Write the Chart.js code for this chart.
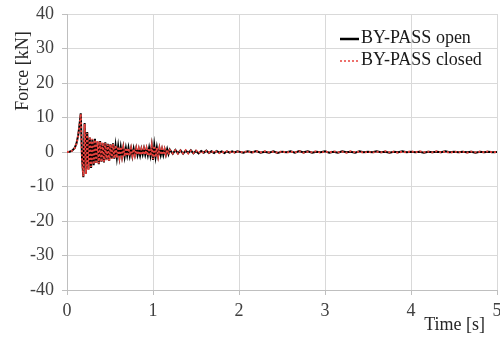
<!DOCTYPE html>
<html>
<head>
<meta charset="utf-8">
<script src="https://cdn.jsdelivr.net/npm/chart.js@4"></script>
<style>
  html, body { margin: 0; padding: 0; background: #fff; }
  #wrap { width: 500px; height: 338px; }
</style>
</head>
<body>
<div id="wrap"><canvas id="chart" width="500" height="338"></canvas></div>
<script>
// Temps (s) des échantillons
const times = [
  0, 0.03, 0.06, 0.09, 0.11, 0.13, 0.145, 0.16,
  0.175, 0.19, 0.205, 0.22, 0.235, 0.25, 0.265, 0.28, 0.295, 0.31,
  0.325, 0.34, 0.355, 0.37, 0.385, 0.4, 0.415, 0.43, 0.445, 0.46,
  0.475, 0.49, 0.505, 0.52, 0.535, 0.55, 0.565, 0.58, 0.595, 0.61,
  0.625, 0.64, 0.655, 0.67, 0.685, 0.7, 0.715, 0.73, 0.745, 0.76,
  0.775, 0.79, 0.805, 0.82, 0.835, 0.85, 0.865, 0.88, 0.895, 0.91,
  0.925, 0.94, 0.955, 0.97, 0.985, 1.0, 1.015, 1.03, 1.045, 1.06,
  1.075, 1.09, 1.105, 1.12, 1.135, 1.15, 1.165, 1.18, 1.195,
  1.23, 1.26, 1.29, 1.32, 1.35, 1.38, 1.41, 1.44, 1.47, 1.5,
  1.53, 1.56, 1.59, 1.62, 1.65, 1.68, 1.71, 1.74, 1.77, 1.8,
  1.83, 1.86, 1.89, 1.92, 1.95, 1.98,
  2.05, 2.1, 2.15, 2.2, 2.25, 2.3, 2.35, 2.4, 2.45, 2.5,
  2.55, 2.6, 2.65, 2.7, 2.75, 2.8, 2.85, 2.9, 2.95, 3.0,
  3.05, 3.1, 3.15, 3.2, 3.25, 3.3, 3.35, 3.4, 3.45, 3.5,
  3.55, 3.6, 3.65, 3.7, 3.75, 3.8, 3.85, 3.9, 3.95, 4.0,
  4.05, 4.1, 4.15, 4.2, 4.25, 4.3, 4.35, 4.4, 4.45, 4.5,
  4.55, 4.6, 4.65, 4.7, 4.75, 4.8, 4.85, 4.9, 4.95, 5.0
];

// Force (kN) - BY-PASS ouvert
const openForce = [
  0, 0.1, 0.4, 1.2, 2.5, 4.8, 7.8, 11.2,
  -2.0, -7.3, 8.4, -6.2, 5.8, -5.0, 4.2, -4.6, 3.6, -3.8,
  3.8, -3.2, 3.0, -3.5, 3.2, -2.8, 2.6, -3.0, 2.8, -2.2,
  2.4, -2.6, 2.2, -1.8, 2.5, -1.9, 1.8, -1.6, 1.6, -1.5,
  1.4, -1.2, 1.3, -1.4, 1.1, -1.0, 1.2, -1.1, 0.9, -1.2,
  1.0, -0.8, 1.1, -0.9, 0.8, -1.0, 0.9, -0.7, 1.0, -0.8,
  0.9, -0.9, 1.2, -1.0, 1.8, -2.3, 1.9, -1.4, 1.3, -1.1,
  1.0, -0.9, 0.8, -0.9, 0.7, -0.8, 0.8, -0.6, 0.7,
  -0.5, 0.6, -0.4, 0.5, -0.5, 0.4, -0.3, 0.5, -0.4, 0.3,
  -0.4, 0.3, -0.2, 0.4, -0.3, 0.2, -0.3, 0.3, -0.2, 0.2,
  -0.3, 0.2, -0.2, 0.2, -0.1, 0.2,
  -0.2, 0.2, -0.1, 0.3, -0.2, 0.1, -0.2, 0.2, -0.3, 0.1,
  -0.1, 0.2, -0.2, 0.3, -0.1, 0.2, -0.2, 0.1, -0.1, 0.2,
  -0.2, 0.1, -0.2, 0.2, -0.1, 0.1, -0.2, 0.2, -0.1, 0.1,
  -0.1, 0.2, -0.1, 0.1, -0.2, 0.1, -0.1, 0.2, -0.1, 0.1,
  -0.1, 0.1, -0.2, 0.1, -0.1, 0.1, -0.1, 0.2, -0.1, 0.1,
  -0.1, 0.1, -0.1, 0.1, -0.2, 0.1, -0.1, 0.1, -0.1, 0.0
];

// Force (kN) - BY-PASS fermé
const closedForce = [
  0, 0.1, 0.4, 1.1, 2.4, 4.7, 7.6, 11.0,
  -2.2, -7.0, 8.1, -6.4, 5.5, -5.2, 4.4, -4.3, 3.8, -3.6,
  3.5, -3.4, 3.2, -3.3, 3.0, -2.9, 2.8, -2.8, 2.6, -2.4,
  2.2, -2.5, 2.3, -2.0, 2.3, -1.8, 1.9, -1.7, 1.5, -1.4,
  1.5, -1.3, 1.2, -1.3, 1.2, -1.1, 1.1, -1.0, 1.0, -1.1,
  0.9, -0.9, 1.0, -0.8, 0.9, -0.9, 0.8, -0.8, 0.9, -0.7,
  1.0, -1.0, 1.1, -1.1, 1.7, -2.1, 1.8, -1.5, 1.2, -1.2,
  1.1, -0.8, 0.9, -0.8, 0.8, -0.7, 0.7, -0.7, 0.6,
  -0.4, 0.5, -0.5, 0.4, -0.4, 0.5, -0.4, 0.4, -0.3, 0.4,
  -0.3, 0.2, -0.3, 0.3, -0.2, 0.3, -0.2, 0.2, -0.3, 0.1,
  -0.2, 0.2, -0.1, 0.2, -0.2, 0.1,
  -0.1, 0.2, -0.2, 0.2, -0.1, 0.2, -0.1, 0.1, -0.2, 0.2,
  -0.2, 0.1, -0.1, 0.2, -0.2, 0.1, -0.1, 0.2, -0.2, 0.1,
  -0.1, 0.2, -0.1, 0.1, -0.2, 0.2, -0.1, 0.1, -0.2, 0.1,
  -0.2, 0.1, -0.1, 0.2, -0.1, 0.1, -0.2, 0.1, -0.1, 0.2,
  -0.1, 0.2, -0.1, 0.1, -0.1, 0.2, -0.1, 0.1, -0.2, 0.1,
  -0.1, 0.1, -0.2, 0.1, -0.1, 0.1, -0.1, 0.2, -0.1, 0.0
];

const seriesLabels = ['BY-PASS open', 'BY-PASS closed'];
const xTicks = [0, 1, 2, 3, 4, 5];
const yTicks = [-40, -30, -20, -10, 0, 10, 20, 30, 40];
const xTitle = 'Time [s]';
const yTitle = 'Force [kN]';

const serif = '"Liberation Serif", "Times New Roman", serif';

function toPoints(values) {
  return times.map((t, i) => ({ x: t, y: values[i] }));
}

// Légende et titres d'axes dessinés dans la zone du graphique
const overlayPlugin = {
  id: 'overlay',
  afterDraw(chart) {
    const ctx = chart.ctx;
    const area = chart.chartArea;
    ctx.save();
    ctx.font = '18px ' + serif;
    ctx.textBaseline = 'middle';
    chart.data.datasets.forEach((ds, i) => {
      const y = area.top + 24 + i * 22;
      const x0 = area.right - 157;
      ctx.beginPath();
      ctx.strokeStyle = ds.borderColor;
      ctx.lineWidth = i === 0 ? 2.5 : 1.5;
      ctx.setLineDash(ds.borderDash || []);
      ctx.moveTo(x0, y + 1);
      ctx.lineTo(x0 + 19, y + 1);
      ctx.stroke();
      ctx.setLineDash([]);
      ctx.fillStyle = '#1a1a1a';
      ctx.textAlign = 'left';
      ctx.fillText(ds.label, x0 + 21, y);
    });

    ctx.fillStyle = '#262626';
    ctx.textAlign = 'right';
    ctx.textBaseline = 'alphabetic';
    ctx.fillText(xTitle, area.right - 12, 330);

    ctx.translate(23, 71);
    ctx.rotate(-Math.PI / 2);
    ctx.textAlign = 'center';
    ctx.textBaseline = 'middle';
    ctx.fillText(yTitle, 0, 0);
    ctx.restore();
  }
};

new Chart(document.getElementById('chart'), {
  type: 'line',
  data: {
    datasets: [
      {
        label: seriesLabels[0],
        data: toPoints(openForce),
        borderColor: '#000000',
        borderWidth: 2,
        pointRadius: 0,
        tension: 0,
        order: 2
      },
      {
        label: seriesLabels[1],
        data: toPoints(closedForce),
        borderColor: '#e8413c',
        borderWidth: 2,
        borderDash: [2, 2],
        pointRadius: 0,
        tension: 0,
        order: 1
      }
    ]
  },
  options: {
    responsive: false,
    animation: false,
    layout: { padding: { top: 14, right: 3, left: 0, bottom: 0 } },
    plugins: {
      legend: { display: false },
      tooltip: { enabled: false }
    },
    scales: {
      x: {
        type: 'linear',
        min: 0,
        max: 5,
        afterBuildTicks: s => { s.ticks = xTicks.map(v => ({ value: v })); },
        afterFit: s => { s.height = 48; s.paddingLeft = 0; s.paddingRight = 0; },
        grid: { color: '#d9d9d9', tickLength: 5, tickColor: '#bfbfbf' },
        border: { color: '#bfbfbf' },
        ticks: { font: { family: serif, size: 18 }, color: '#404040', padding: 5, maxRotation: 0 }
      },
      y: {
        min: -40,
        max: 40,
        afterBuildTicks: s => { s.ticks = yTicks.map(v => ({ value: v })); },
        afterFit: s => { s.width = 67; s.paddingTop = 0; s.paddingBottom = 0; },
        grid: { color: '#d9d9d9', tickLength: 5, tickColor: '#bfbfbf' },
        border: { color: '#bfbfbf' },
        ticks: { font: { family: serif, size: 18 }, color: '#404040', padding: 8 }
      }
    }
  },
  plugins: [overlayPlugin]
});
</script>
</body>
</html>
